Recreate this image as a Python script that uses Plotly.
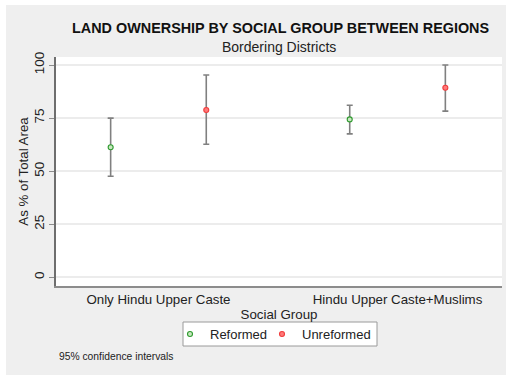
import plotly.graph_objects as go

# Social groups on the x axis
groups = ["Only Hindu Upper Caste", "Hindu Upper Caste+Muslims"]
group_pos = [1, 2]

# Mean share of total area and 95% CI bounds
reformed_mean = [61.3, 74.4]
reformed_lo = [47.6, 67.6]
reformed_hi = [75.0, 81.1]

unreformed_mean = [78.8, 89.3]
unreformed_lo = [62.7, 78.3]
unreformed_hi = [95.3, 100.0]

y_ticks = [0, 25, 50, 75, 100]

OFFSET = 0.2
W, H = 506, 375
ML, MR, MT, MB = 56, 4, 57, 89
PW = W - ML - MR
PH = H - MT - MB


def px_x(px):
    return (px - ML) / PW


def px_y(py):
    return (H - MB - py) / PH


def series(name, means, lo, hi, shift, line_col, fill_col, **extra):
    return go.Scatter(
        x=[p + shift for p in group_pos],
        y=means,
        mode="markers",
        name=name,
        marker=dict(size=5, color=fill_col, line=dict(color=line_col, width=1.1)),
        error_y=dict(
            type="data",
            symmetric=False,
            array=[h - m for h, m in zip(hi, means)],
            arrayminus=[m - l for m, l in zip(means, lo)],
            color="#808080",
            thickness=1.6,
            width=3,
        ),
        **extra,
    )


fig = go.Figure()
fig.add_trace(series("Reformed", reformed_mean, reformed_lo, reformed_hi,
                     -OFFSET, "#2e9a2e", "#c8e8c0", legendwidth=47))
fig.add_trace(series("Unreformed", unreformed_mean, unreformed_lo, unreformed_hi,
                     OFFSET, "#f03c3c", "#ff7a7a"))

font = "Liberation Sans, Arial, sans-serif"
txt = "#222"

fig.update_layout(
    width=W,
    height=H,
    margin=dict(l=ML, r=MR, t=MT, b=MB),
    paper_bgcolor="white",
    plot_bgcolor="white",
    font=dict(family=font, size=13, color=txt),
    showlegend=True,
    legend=dict(
        orientation="h",
        x=px_x(170),
        xanchor="left",
        y=px_y(319),
        yanchor="top",
        bgcolor="rgba(0,0,0,0)",
        borderwidth=0,
        font=dict(size=13, color=txt),
        itemwidth=30,
    ),
    shapes=[
        dict(type="rect", xref="paper", yref="paper",
             x0=px_x(6), x1=px_x(W + 5), y0=px_y(H + 5), y1=px_y(5),
             fillcolor="#efefef", line=dict(width=0), layer="below"),
        dict(type="rect", xref="paper", yref="paper",
             x0=0, x1=1, y0=0, y1=1,
             fillcolor="white", line=dict(width=0), layer="below"),
        # legend frame
        dict(type="rect", xref="paper", yref="paper",
             x0=px_x(183), x1=px_x(377), y0=px_y(346), y1=px_y(322),
             fillcolor="white", line=dict(color="#9a9a9a", width=1), layer="below"),
    ],
    annotations=[
        dict(text="<b>LAND OWNERSHIP BY SOCIAL GROUP BETWEEN REGIONS</b>",
             xref="paper", yref="paper", x=px_x(281), y=px_y(28),
             xanchor="center", yanchor="middle", showarrow=False,
             font=dict(size=14.4, color="#111")),
        dict(text="Bordering Districts",
             xref="paper", yref="paper", x=0.5, y=px_y(47),
             xanchor="center", yanchor="middle", showarrow=False,
             font=dict(size=14, color=txt)),
        dict(text="95% confidence intervals",
             xref="paper", yref="paper", x=px_x(57), y=px_y(356),
             xanchor="left", yanchor="middle", showarrow=False,
             font=dict(size=10.3, color=txt)),
    ],
    xaxis=dict(
        range=[1 - 102 / 238, 2 + 104 / 238],
        tickvals=group_pos,
        ticktext=groups,
        ticks="",
        showgrid=False,
        zeroline=False,
        showline=True,
        linecolor="#8c8c8c",
        linewidth=1.5,
        tickfont=dict(size=13.3, color=txt),
        title=dict(text="Social Group", font=dict(size=13.3, color=txt), standoff=0),
    ),
    yaxis=dict(
        range=[-4.1, 103.8],
        tickvals=y_ticks,
        tickangle=-90,
        ticks="outside",
        ticklen=5,
        tickcolor="#8c8c8c",
        showgrid=True,
        gridcolor="#ececec",
        gridwidth=2,
        zeroline=False,
        showline=True,
        linecolor="#6e6e6e",
        linewidth=1.5,
        tickfont=dict(size=13.5, color=txt),
        title=dict(text="As % of Total Area", font=dict(size=13.3, color=txt), standoff=0),
    ),
)

fig.write_html("out.html")
